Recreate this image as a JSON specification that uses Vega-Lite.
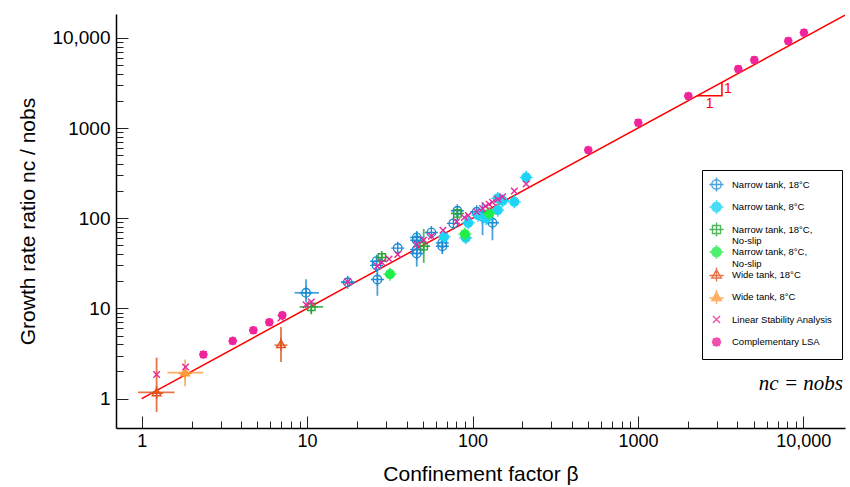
{
  "$schema": "https://vega.github.io/schema/vega-lite/v6.json",
  "width": 729,
  "height": 414,
  "autosize": "none",
  "padding": {"left": 116, "top": 14, "right": 5, "bottom": 59},
  "background": "white",
  "config": {"view": {"stroke": null}, "font": "Liberation Sans"},
  "datasets": {
    "pts": [
      {"s": "Narrow tank, 18°C", "b": 9.85, "n": 14.9, "bmin": 8.4, "bmax": 11.8, "nmin": 11.6, "nmax": 21},
      {"s": "Narrow tank, 18°C", "b": 17.6, "n": 19.5, "bmin": 16.0, "bmax": 19.5},
      {"s": "Narrow tank, 18°C", "b": 26.3, "n": 33.4},
      {"s": "Narrow tank, 18°C", "b": 26.3, "n": 30},
      {"s": "Narrow tank, 18°C", "b": 26.6, "n": 20.9, "nmin": 13.8, "nmax": 26.6},
      {"s": "Narrow tank, 18°C", "b": 35.3, "n": 46.6},
      {"s": "Narrow tank, 18°C", "b": 46, "n": 61.2},
      {"s": "Narrow tank, 18°C", "b": 46, "n": 57},
      {"s": "Narrow tank, 18°C", "b": 46, "n": 45, "nmin": 29, "nmax": 70},
      {"s": "Narrow tank, 18°C", "b": 46, "n": 40.7},
      {"s": "Narrow tank, 18°C", "b": 56.4, "n": 69.6},
      {"s": "Narrow tank, 18°C", "b": 65.7, "n": 53.3, "nmin": 40, "nmax": 60},
      {"s": "Narrow tank, 18°C", "b": 65.7, "n": 49},
      {"s": "Narrow tank, 18°C", "b": 76.6, "n": 87.6},
      {"s": "Narrow tank, 18°C", "b": 81, "n": 121},
      {"s": "Narrow tank, 18°C", "b": 106, "n": 118},
      {"s": "Narrow tank, 18°C", "b": 115, "n": 104, "nmin": 65, "nmax": 151},
      {"s": "Narrow tank, 18°C", "b": 132, "n": 89, "nmin": 57, "nmax": 128},
      {"s": "Narrow tank, 8°C", "b": 67.3, "n": 62.2},
      {"s": "Narrow tank, 8°C", "b": 94.3, "n": 88.9},
      {"s": "Narrow tank, 8°C", "b": 91, "n": 60.6},
      {"s": "Narrow tank, 8°C", "b": 108, "n": 108},
      {"s": "Narrow tank, 8°C", "b": 121, "n": 99.5},
      {"s": "Narrow tank, 8°C", "b": 142, "n": 123},
      {"s": "Narrow tank, 8°C", "b": 142, "n": 166},
      {"s": "Narrow tank, 8°C", "b": 152, "n": 156},
      {"s": "Narrow tank, 8°C", "b": 179, "n": 152},
      {"s": "Narrow tank, 8°C", "b": 211, "n": 284},
      {"s": "Narrow tank, 18°C, No-slip", "b": 10.6, "n": 10.4, "bmin": 9.0, "bmax": 12.5, "nmin": 8.6, "nmax": 11.8},
      {"s": "Narrow tank, 18°C, No-slip", "b": 28.3, "n": 36.7, "nmin": 33, "nmax": 40},
      {"s": "Narrow tank, 18°C, No-slip", "b": 50.7, "n": 49, "nmin": 32, "nmax": 76},
      {"s": "Narrow tank, 18°C, No-slip", "b": 81, "n": 113, "nmin": 100, "nmax": 125},
      {"s": "Narrow tank, 8°C, No-slip", "b": 31.7, "n": 24, "bmin": 29.6, "bmax": 34, "nmin": 22, "nmax": 26},
      {"s": "Narrow tank, 8°C, No-slip", "b": 90, "n": 66.6, "bmin": 86, "bmax": 94},
      {"s": "Narrow tank, 8°C, No-slip", "b": 126, "n": 113},
      {"s": "Wide tank, 18°C", "b": 1.23, "n": 1.17, "bmin": 0.95, "bmax": 1.58, "nmin": 0.71, "nmax": 2.85},
      {"s": "Wide tank, 18°C", "b": 6.95, "n": 4.0, "nmin": 2.55, "nmax": 6.24},
      {"s": "Wide tank, 8°C", "b": 1.83, "n": 1.94, "bmin": 1.43, "bmax": 2.36, "nmin": 1.37, "nmax": 2.71},
      {"s": "Linear Stability Analysis", "b": 1.23, "n": 1.85},
      {"s": "Linear Stability Analysis", "b": 1.84, "n": 2.24},
      {"s": "Linear Stability Analysis", "b": 6.95, "n": 7.85},
      {"s": "Linear Stability Analysis", "b": 9.85, "n": 11.0},
      {"s": "Linear Stability Analysis", "b": 10.6, "n": 11.8},
      {"s": "Linear Stability Analysis", "b": 17.6, "n": 19.7},
      {"s": "Linear Stability Analysis", "b": 26.6, "n": 29.6},
      {"s": "Linear Stability Analysis", "b": 28.3, "n": 32.3},
      {"s": "Linear Stability Analysis", "b": 31.3, "n": 35.4},
      {"s": "Linear Stability Analysis", "b": 35.3, "n": 39.6},
      {"s": "Linear Stability Analysis", "b": 46, "n": 51.2},
      {"s": "Linear Stability Analysis", "b": 50.7, "n": 57.2},
      {"s": "Linear Stability Analysis", "b": 56.4, "n": 63.3},
      {"s": "Linear Stability Analysis", "b": 66.3, "n": 73.8},
      {"s": "Linear Stability Analysis", "b": 80.2, "n": 91.2},
      {"s": "Linear Stability Analysis", "b": 89.3, "n": 102},
      {"s": "Linear Stability Analysis", "b": 94.3, "n": 107},
      {"s": "Linear Stability Analysis", "b": 106, "n": 118},
      {"s": "Linear Stability Analysis", "b": 115, "n": 128},
      {"s": "Linear Stability Analysis", "b": 120, "n": 136},
      {"s": "Linear Stability Analysis", "b": 126, "n": 143},
      {"s": "Linear Stability Analysis", "b": 132, "n": 150},
      {"s": "Linear Stability Analysis", "b": 142, "n": 162},
      {"s": "Linear Stability Analysis", "b": 152, "n": 173},
      {"s": "Linear Stability Analysis", "b": 179, "n": 201},
      {"s": "Linear Stability Analysis", "b": 211, "n": 239},
      {"s": "Complementary LSA", "b": 2.36, "n": 3.08},
      {"s": "Complementary LSA", "b": 3.55, "n": 4.36},
      {"s": "Complementary LSA", "b": 4.73, "n": 5.73},
      {"s": "Complementary LSA", "b": 5.91, "n": 7.03},
      {"s": "Complementary LSA", "b": 7.08, "n": 8.4},
      {"s": "Complementary LSA", "b": 501, "n": 570},
      {"s": "Complementary LSA", "b": 1005, "n": 1145},
      {"s": "Complementary LSA", "b": 2018, "n": 2265},
      {"s": "Complementary LSA", "b": 4045, "n": 4517},
      {"s": "Complementary LSA", "b": 5056, "n": 5689},
      {"s": "Complementary LSA", "b": 8110, "n": 9240},
      {"s": "Complementary LSA", "b": 10090, "n": 11430}
    ],
    "fit": [{"b": 1, "n": 1}, {"b": 17870, "n": 17870}],
    "tri": [{"b": 2276, "n": 2276, "k": 0}, {"b": 3222, "n": 2276, "k": 1}, {"b": 3222, "n": 3222, "k": 2}],
    "trilab": [{"b": 2710, "n": 2276, "t": "1", "pos": "below"}, {"b": 3222, "n": 2700, "t": "1", "pos": "right"}],
    "ann": [{"b": 17870, "n": 1, "t": "nc = nobs"}]
  },
  "layer": [
    {
      "data": {"name": "fit"},
      "mark": {"type": "line", "color": "#ff0000", "strokeWidth": 1.5, "clip": true},
      "encoding": {
        "x": {"field": "b", "type": "quantitative", "scale": {"type": "log", "domain": [0.699, 17870], "nice": false},
          "title": "Confinement factor  β",
          "axis": {
            "values": [1,2,3,4,5,6,7,8,9,10,20,30,40,50,60,70,80,90,100,200,300,400,500,600,700,800,900,1000,2000,3000,4000,5000,6000,7000,8000,9000,10000],
            "labelExpr": "datum.value == 10000 ? '10,000' : (indexof([1,10,100,1000], datum.value) >= 0 ? '' + datum.value : '')",
            "labelOverlap": false, "labelFlush": false,
            "tickSize": {"condition": {"test": "indexof([1,10,100,1000,10000], datum.value) >= 0", "value": -12}, "value": -7},
            "tickColor": "#222", "tickWidth": 1,
            "domainColor": "#000", "domainWidth": 1.5,
            "labelFontSize": 18, "labelColor": "#000", "labelPadding": 16,
            "titleFontSize": 21, "titleFontWeight": "normal", "titleColor": "#000", "titlePadding": 8,
            "grid": false
          }
        },
        "y": {"field": "n", "type": "quantitative", "scale": {"type": "log", "domain": [0.472, 18400], "nice": false},
          "title": "Growth rate ratio  nc / nobs",
          "axis": {
            "values": [1,2,3,4,5,6,7,8,9,10,20,30,40,50,60,70,80,90,100,200,300,400,500,600,700,800,900,1000,2000,3000,4000,5000,6000,7000,8000,9000,10000],
            "labelExpr": "datum.value == 10000 ? '10,000' : (indexof([1,10,100,1000], datum.value) >= 0 ? '' + datum.value : '')",
            "labelOverlap": false, "labelFlush": false,
            "tickSize": {"condition": {"test": "indexof([1,10,100,1000,10000], datum.value) >= 0", "value": -12}, "value": -7},
            "tickColor": "#222", "tickWidth": 1,
            "domainColor": "#000", "domainWidth": 1.5,
            "labelFontSize": 19, "labelColor": "#000", "labelPadding": 18,
            "titleFontSize": 21, "titleFontWeight": "normal", "titleColor": "#000", "titlePadding": 13,
            "grid": false
          }
        }
      }
    },
    {
      "mark": {"type": "rule", "color": "#000", "strokeWidth": 1.5},
      "encoding": {"y": {"datum": 1}}
    },
    {
      "data": {"name": "tri"},
      "mark": {"type": "line", "color": "#ff0000", "strokeWidth": 1.5},
      "encoding": {
        "x": {"field": "b", "type": "quantitative"},
        "y": {"field": "n", "type": "quantitative"},
        "order": {"field": "k"}
      }
    },
    {
      "data": {"name": "trilab"},
      "transform": [{"filter": "datum.pos == 'below'"}],
      "mark": {"type": "text", "color": "#ff0000", "fontSize": 14, "baseline": "top", "align": "center", "dy": 1},
      "encoding": {
        "x": {"field": "b", "type": "quantitative"},
        "y": {"field": "n", "type": "quantitative"},
        "text": {"field": "t"}
      }
    },
    {
      "data": {"name": "trilab"},
      "transform": [{"filter": "datum.pos == 'right'"}],
      "mark": {"type": "text", "color": "#ff0000", "fontSize": 14, "baseline": "middle", "align": "left", "dx": 2},
      "encoding": {
        "x": {"field": "b", "type": "quantitative"},
        "y": {"field": "n", "type": "quantitative"},
        "text": {"field": "t"}
      }
    },
    {
      "data": {"name": "ann"},
      "mark": {"type": "text", "color": "#000", "fontSize": 21, "font": "Liberation Serif", "fontStyle": "italic", "baseline": "bottom", "align": "right", "dy": -5, "dx": -2},
      "encoding": {
        "x": {"field": "b", "type": "quantitative"},
        "y": {"field": "n", "type": "quantitative"},
        "text": {"field": "t"}
      }
    },
    {
      "data": {"name": "pts"},
      "transform": [{"filter": "isValid(datum.nmin)"}],
      "mark": {"type": "rule", "strokeWidth": 1.8, "opacity": 0.8},
      "encoding": {
        "x": {"field": "b", "type": "quantitative"},
        "y": {"field": "nmin", "type": "quantitative"},
        "y2": {"field": "nmax"},
        "stroke": {"field": "s", "type": "nominal"}
      }
    },
    {
      "data": {"name": "pts"},
      "transform": [{"filter": "isValid(datum.bmin)"}],
      "mark": {"type": "rule", "strokeWidth": 1.8, "opacity": 0.8},
      "encoding": {
        "x": {"field": "bmin", "type": "quantitative"},
        "x2": {"field": "bmax"},
        "y": {"field": "n", "type": "quantitative"},
        "stroke": {"field": "s", "type": "nominal"}
      }
    },
    {
      "data": {"name": "pts"},
      "mark": {"type": "point", "size": 75, "strokeWidth": 1.4, "opacity": 1},
      "encoding": {
        "x": {"field": "b", "type": "quantitative"},
        "y": {"field": "n", "type": "quantitative"},
        "stroke": {"field": "s", "type": "nominal",
          "scale": {
            "domain": ["Narrow tank, 18°C", "Narrow tank, 8°C", "Narrow tank, 18°C, No-slip", "Narrow tank, 8°C, No-slip", "Wide tank, 18°C", "Wide tank, 8°C", "Linear Stability Analysis", "Complementary LSA"],
            "range": ["#1b8cd3", "#1fd3f5", "#2aa33a", "#22ee4a", "#e0521e", "#ff9a3c", "#e8289a", "#f0249b"]
          },
          "legend": {
            "orient": "none", "legendX": 586, "legendY": 156, "title": null,
            "labelFontSize": 9.5, "labelColor": "#000", "labelFont": "Liberation Sans",
            "rowPadding": -4.5, "padding": 9, "strokeColor": "#000", "fillColor": "white",
            "gridAlign": "all", "labelOffset": 10,
            "symbolSize": 90, "symbolStrokeWidth": 1.4,
            "labelExpr": "split(replace(datum.label, ', No-slip', ',|No-slip'), '|')"
          }
        },
        "fill": {"field": "s", "type": "nominal",
          "scale": {
            "domain": ["Narrow tank, 18°C", "Narrow tank, 8°C", "Narrow tank, 18°C, No-slip", "Narrow tank, 8°C, No-slip", "Wide tank, 18°C", "Wide tank, 8°C", "Linear Stability Analysis", "Complementary LSA"],
            "range": ["transparent", "#1fd3f5", "transparent", "#22ee4a", "transparent", "#ff9a3c", "transparent", "#f0249b"]
          }
        },
        "shape": {"field": "s", "type": "nominal",
          "scale": {
            "domain": ["Narrow tank, 18°C", "Narrow tank, 8°C", "Narrow tank, 18°C, No-slip", "Narrow tank, 8°C, No-slip", "Wide tank, 18°C", "Wide tank, 8°C", "Linear Stability Analysis", "Complementary LSA"],
            "range": [
              "M-1,0A1,1,0,1,0,1,0A1,1,0,1,0,-1,0ZM-1.5,0L1.5,0M0,-1.5L0,1.5",
              "M-1,0A1,1,0,1,0,1,0A1,1,0,1,0,-1,0ZM-1.5,0L1.5,0M0,-1.5L0,1.5",
              "M-0.85,-0.85L0.85,-0.85L0.85,0.85L-0.85,0.85ZM-1.5,0L1.5,0M0,-1.5L0,1.5",
              "M-1,0A1,1,0,1,0,1,0A1,1,0,1,0,-1,0ZM-1.5,0L1.5,0M0,-1.5L0,1.5",
              "M0,-1L1,0.75L-1,0.75ZM-1.5,0.2L1.5,0.2M0,-1.5L0,1.5",
              "M0,-1L1,0.75L-1,0.75ZM-1.5,0.2L1.5,0.2M0,-1.5L0,1.5",
              "M-0.75,-0.75L0.75,0.75M0.75,-0.75L-0.75,0.75",
              "M-0.8,0A0.8,0.8,0,1,0,0.8,0A0.8,0.8,0,1,0,-0.8,0ZM-1,0L1,0M0,-1L0,1M-0.75,-0.75L0.75,0.75M0.75,-0.75L-0.75,0.75"
            ]
          }
        }
      }
    }
  ]
}
